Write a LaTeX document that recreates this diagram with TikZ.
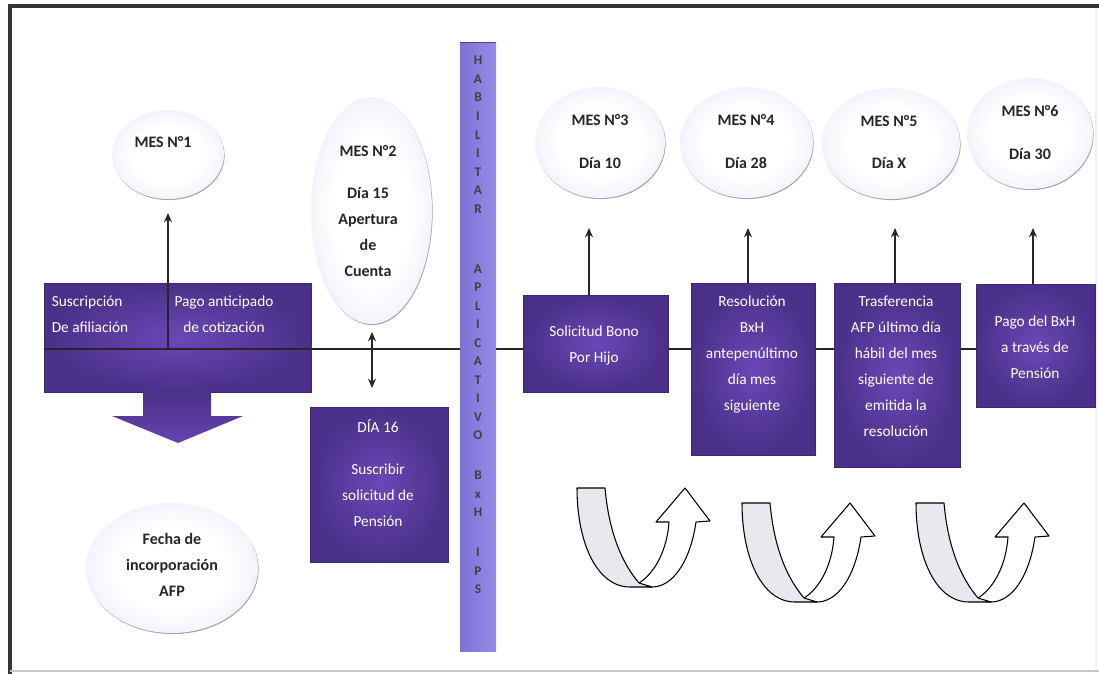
\documentclass[tikz,border=0pt]{standalone}
\usepackage{fontspec}
\setmainfont{Carlito}
\usetikzlibrary{arrows.meta,shapes.geometric,shadows,backgrounds}
\definecolor{boxout}{HTML}{4A3088}
\definecolor{boxin}{HTML}{6A48B8}
\definecolor{boxedge}{HTML}{38286C}
\definecolor{barl}{HTML}{7C72D6}
\definecolor{barr}{HTML}{958CE8}
\definecolor{barline}{HTML}{4A4878}
\definecolor{frame}{HTML}{33333F}
\definecolor{band}{HTML}{E8E8EE}
\definecolor{ovone}{HTML}{F4F3FC}
\definecolor{ovtwo}{HTML}{E2DFF6}
\definecolor{ovthree}{HTML}{C6C0EC}
\pgfdeclareradialshading{ovalshade}{\pgfpoint{0bp}{0bp}}{%
  color(0bp)=(white);color(16bp)=(white);color(25bp)=(ovone);color(31bp)=(ovtwo);color(36bp)=(ovthree);color(50bp)=(ovthree)}
\tikzset{
  boxsize/.style 2 args={minimum width=#1*0.75pt,minimum height=#2*0.75pt,inner sep=0pt},
  pbox/.style={rectangle,shade,inner color=boxin,outer color=boxout,draw=boxedge,line width=0.6pt},
  oval/.style={ellipse,shade,shading=ovalshade,
    drop shadow={shadow xshift=0.5pt,shadow yshift=-0.8pt,fill=black!50,opacity=0.7}},
  wtext/.style={text=white,align=center,inner sep=0pt,font=\fontsize{11.5}{19.5}\selectfont},
  ktext/.style={text=black!85,align=center,inner sep=0pt,font=\fontsize{12}{19.5}\selectfont\bfseries},
  conn/.style={line width=1pt,draw=black!85},
  tip/.style={-{Stealth[length=7pt,width=6pt]}},
  uarrow/.pic={
    \draw[line width=0.8pt,fill=white,line join=round]
      (62,95) .. controls (78,85) and (90,62) .. (92,34) -- (79,34) -- (108,0)
      -- (133,33) -- (119,34) .. controls (113,75) and (95,99) .. (75,99) -- (62,97) -- cycle;
    \draw[line width=0.8pt,fill=band,line join=round]
      (0,0) .. controls (0,55) and (20,99) .. (53,99) -- (75,99) -- (62,95)
      .. controls (45,75) and (32,45) .. (28,0) -- cycle;
  }
}
\begin{document}
\begin{tikzpicture}[x=0.75pt,y=-0.75pt]
\useasboundingbox (0,0) rectangle (1099,674);
% frame
\draw[frame,line width=3.5pt] (10,674) -- (10,6) -- (1099,6);
\draw[black!22,line width=1pt] (10,671) -- (1099,671);
\draw[black!6,line width=1pt] (1096,8) -- (1096,670);
% shapes
\node[pbox,boxsize={267}{109}] (b1) at (177.5,337.5) {};
\node[pbox,boxsize={138}{155}] (b2) at (379,484.5) {};
\node[pbox,boxsize={145}{97}] (b3) at (595.5,343.5) {};
\node[pbox,boxsize={124}{172}] (b4) at (753,369) {};
\node[pbox,boxsize={126}{184}] (b5) at (897,375) {};
\node[pbox,boxsize={119}{123}] (b6) at (1035.5,345.5) {};
\node[rectangle,left color=barl,right color=barr,boxsize={36}{608}] (bar) at (478,347) {};
\draw[barline,line width=0.8pt] (bar.north west) -- (bar.north east);
\node[oval,boxsize={112}{89}] (e1) at (168,154.5) {};
\node[oval,boxsize={121}{227}] (e2) at (371.5,210.5) {};
\node[oval,boxsize={130}{111}] (e3) at (600,142.5) {};
\node[oval,boxsize={133}{111}] (e4) at (746.5,142.5) {};
\node[oval,boxsize={138}{111}] (e5) at (891,143.5) {};
\node[oval,boxsize={126}{111}] (e6) at (1030,133.5) {};
\node[oval,boxsize={172}{130}] (e7) at (172,568) {};
% free ends
\coordinate (ml) at (0,349);
\coordinate (a1) at (168,213);
\coordinate (a3) at (589,228);
\coordinate (a4) at (748,228);
\coordinate (a5) at (895,228);
\coordinate (a6) at (1033,228);
\coordinate (d1) at (372,332);
\coordinate (d2) at (372,388);
\begin{scope}[on background layer]
  \fill[white] (0,0) rectangle (1099,674);
  \draw[conn] (b1.east |- ml) -- (b6.west |- ml);
\end{scope}
% block arrow
\shade[top color=boxout,bottom color=boxin!85!boxout] (143,392) -- (143,416) -- (112,416) -- (178,443) -- (243,416) -- (211,416) -- (211,392) -- cycle;
% connectors
\draw[conn] (b1.west |- ml) -- (b1.east |- ml);
\draw[conn,tip] (a1 |- ml) -- (a1);
\draw[conn,tip] (a3 |- b3.north) -- (a3);
\draw[conn,tip] (a4 |- b4.north) -- (a4);
\draw[conn,tip] (a5 |- b5.north) -- (a5);
\draw[conn,tip] (a6 |- b6.north) -- (a6);
\draw[conn,{Stealth[length=7pt,width=6pt]}-{Stealth[length=7pt,width=6pt]}] (d1) -- (d2);
% curved arrows
\pic at (577,488) {uarrow};
\pic at (742,503) {uarrow};
\pic at (916,503) {uarrow};
% texts
\node[wtext,align=left] (t1a) at (90,314) {Suscripción\\De afiliación};
\node[wtext] (t1b) at (224,314) {Pago anticipado\\de cotización};
\node[wtext] (t2) at (378,473) {DÍA 16\\[12pt]Suscribir\\solicitud de\\Pensión};
\node[wtext] (t3) at (594,345) {Solicitud Bono\\Por Hijo};
\node[wtext] (t4) at (752,354) {Resolución\\BxH\\antepenúltimo\\día mes\\siguiente};
\node[wtext] (t5) at (896,366) {Trasferencia\\AFP último día\\hábil del mes\\siguiente de\\emitida la\\resolución};
\node[wtext] (t6) at (1035,347) {Pago del BxH\\a través de\\Pensión};
\node[ktext] (l1) at (163,142) {MES N°1};
\node[ktext] (l2) at (368,211) {MES N°2\\[12pt]Día 15\\Apertura\\de\\Cuenta};
\node[ktext] (l3) at (600,141.5) {MES N°3\\[12.5pt]Día 10};
\node[ktext] (l4) at (746,141.5) {MES N°4\\[12.5pt]Día 28};
\node[ktext] (l5) at (889,142) {MES N°5\\[12.5pt]Día X};
\node[ktext] (l6) at (1030,132.5) {MES N°6\\[12.5pt]Día 30};
\node[ktext] (l7) at (172,565) {Fecha de\\incorporación\\AFP};
\node[anchor=north,align=center,inner sep=0pt,text=black!75,font=\fontsize{10}{13.9}\selectfont\bfseries] (vt) at (478,56)
  {H\\A\\B\\I\\L\\I\\T\\A\\R\\[31pt]A\\P\\L\\I\\C\\A\\T\\I\\V\\O\\[16pt]B\\x\\H\\[16pt]I\\P\\S};
\end{tikzpicture}
\end{document}
